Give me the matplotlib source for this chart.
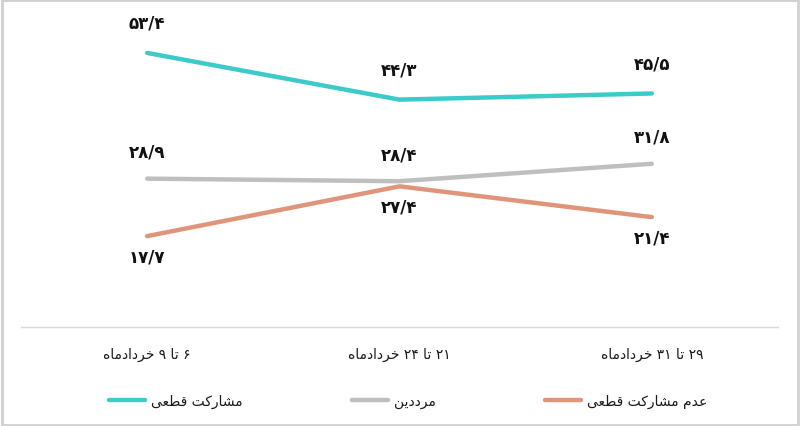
import matplotlib
matplotlib.use("Agg")
import matplotlib.pyplot as plt

# values
periods = ["۶ تا ۹ خردادماه", "۲۱ تا ۲۴ خردادماه", "۲۹ تا ۳۱ خردادماه"]
series_names = ["مشارکت قطعی", "مرددین", "عدم مشارکت قطعی"]
participate = [53.4, 44.3, 45.5]
undecided = [28.9, 28.4, 31.8]
not_participate = [17.7, 27.4, 21.4]
colors = ["#3ccbc8", "#bfbfbf", "#e0957a"]

# tiny arabic/persian shaper (matplotlib has no shaping / bidi)
FORMS = {
    'ا': ('\uFE8D', '\uFE8E', None, None),
    'د': ('\uFEA9', '\uFEAA', None, None),
    'ر': ('\uFEAD', '\uFEAE', None, None),
    'ت': ('\uFE95', '\uFE96', '\uFE97', '\uFE98'),
    'خ': ('\uFEA5', '\uFEA6', '\uFEA7', '\uFEA8'),
    'ش': ('\uFEB5', '\uFEB6', '\uFEB7', '\uFEB8'),
    'ط': ('\uFEC1', '\uFEC2', '\uFEC3', '\uFEC4'),
    'ع': ('\uFEC9', '\uFECA', '\uFECB', '\uFECC'),
    'ق': ('\uFED5', '\uFED6', '\uFED7', '\uFED8'),
    'م': ('\uFEE1', '\uFEE2', '\uFEE3', '\uFEE4'),
    'ن': ('\uFEE5', '\uFEE6', '\uFEE7', '\uFEE8'),
    'ه': ('\uFEE9', '\uFEEA', '\uFEEB', '\uFEEC'),
    'ک': ('\uFB8E', '\uFB8F', '\uFB90', '\uFB91'),
    'ی': ('\uFBFC', '\uFBFD', '\uFBFE', '\uFBFF'),
}
DIGITS = "۰۱۲۳۴۵۶۷۸۹0123456789/"


def rtl(text):
    out = []
    for i, c in enumerate(text):
        if c not in FORMS:
            out.append(c)
            continue
        iso, fin, ini, med = FORMS[c]
        prev = text[i - 1] if i > 0 else ""
        nxt = text[i + 1] if i + 1 < len(text) else ""
        jp = prev in FORMS and FORMS[prev][2] is not None
        jn = nxt in FORMS and ini is not None
        if jp and jn:
            out.append(med)
        elif jp:
            out.append(fin)
        elif jn:
            out.append(ini)
        else:
            out.append(iso)
    # split into digit runs / other runs, then reverse for visual order
    runs = []
    for c in out:
        d = c in DIGITS
        if runs and runs[-1][0] == d:
            runs[-1][1].append(c)
        else:
            runs.append((d, [c]))
    vis = []
    for d, chars in reversed(runs):
        vis.append("".join(chars) if d else "".join(reversed(chars)))
    return "".join(vis)


def fa_num(v):
    s = f"{v:.1f}".replace(".", "/")
    return s.translate(str.maketrans("0123456789", "۰۱۲۳۴۵۶۷۸۹"))


plt.rcParams['font.family'] = ['DejaVu Sans']

fig = plt.figure(figsize=(8, 4.27), dpi=100)
ax = fig.add_axes([0.02625, 0.232, 0.94625, 0.721])

x = list(range(len(periods)))
all_series = [participate, undecided, not_participate]
lines = []
for vals, c, name in zip(all_series, colors, series_names):
    ln, = ax.plot(x, vals, color=c, lw=3.2, solid_capstyle='round', label=rtl(name))
    lines.append(ln)

# data labels: first two above, last one below (offsets in pixels)
offsets = [30, 27, -20]
for vals, dy in zip(all_series, offsets):
    for xi, v in zip(x, vals):
        ax.annotate(fa_num(v), (xi, v), xytext=(0, dy), textcoords='offset pixels',
                    ha='center', va='center', fontsize=12, fontweight='bold', color='#111111')

ax.set_xlim(-0.5, 2.5)
ax.set_ylim(0, 60)
ax.set_xticks(x)
ax.set_xticklabels([rtl(p) for p in periods], fontsize=10, color='#1a1a1a')
ax.tick_params(axis='x', length=0, pad=14)
ax.set_yticks([])
for s in ['top', 'left', 'right']:
    ax.spines[s].set_visible(False)
ax.spines['bottom'].set_color('#d9d9d9')
ax.spines['bottom'].set_linewidth(1)

leg = fig.legend(handles=lines, loc='center', bbox_to_anchor=(0.51, 0.058), ncol=3,
                 frameon=False, fontsize=10, handlelength=2.6, handletextpad=0.4,
                 columnspacing=7.9)
for t in leg.get_texts():
    t.set_color('#1a1a1a')

# light grey frame around the whole picture
fig.patches.append(plt.Rectangle((0.002, 0.003), 0.996, 0.994, transform=fig.transFigure,
                                 fill=False, edgecolor='#d0d0d0', lw=2))

fig.savefig("out.png", dpi=100)
